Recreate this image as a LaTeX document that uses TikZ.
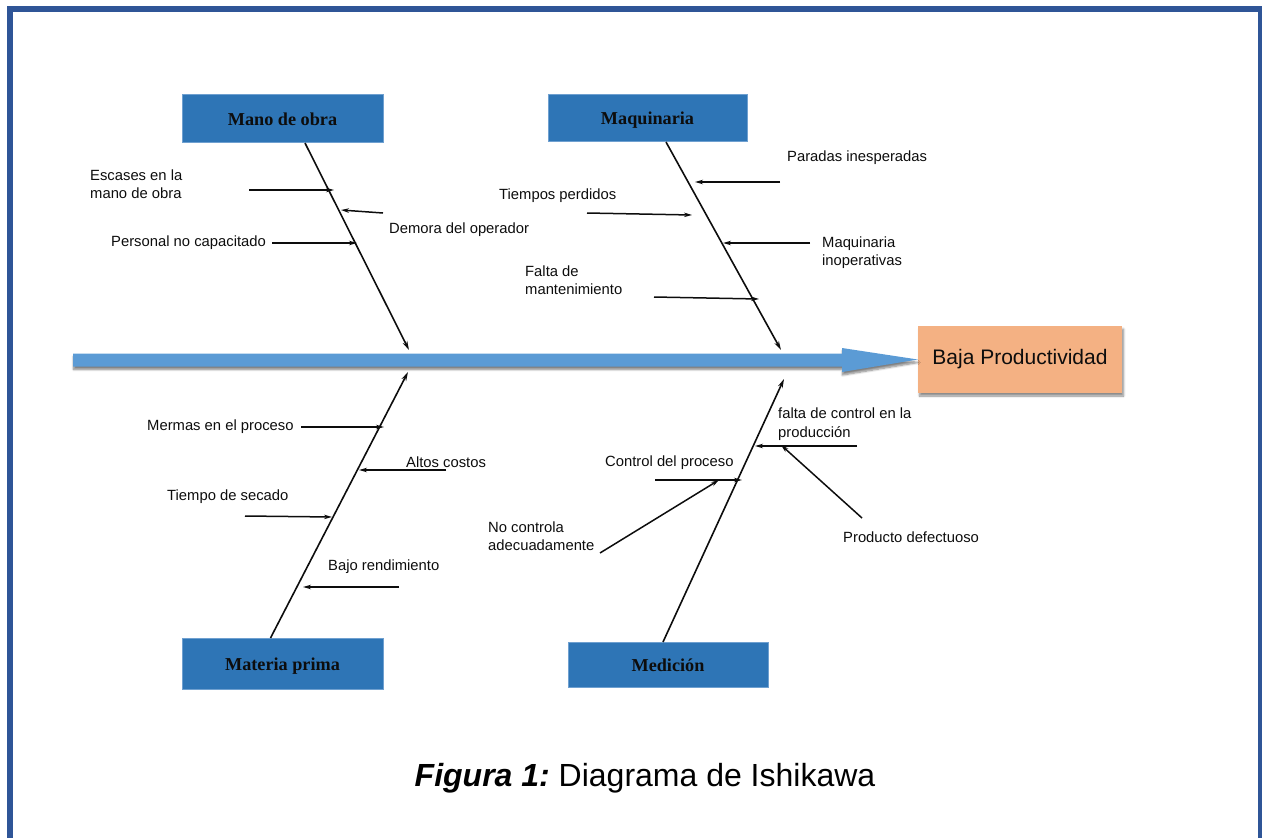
\documentclass[tikz,border=0pt]{standalone}
\usepackage{fontspec}
\setmainfont{Liberation Sans}
\newfontfamily\boxfont{Liberation Serif}
\usetikzlibrary{arrows.meta,shadows.blur}
\definecolor{frameblue}{HTML}{2F5597}
\definecolor{catblue}{HTML}{2E75B6}
\definecolor{catedge}{HTML}{6FA0D0}
\definecolor{spineblue}{HTML}{5B9BD5}
\definecolor{effect}{HTML}{F4B183}
\definecolor{ink}{HTML}{0D0D0D}
\begin{document}
\begin{tikzpicture}[x=1pt,y=-1pt,
  cat/.style={draw=catedge, line width=0.8, fill=catblue, minimum width=201, minimum height=48,
    inner sep=0, text height=15.5, text depth=1,
    font=\boxfont\bfseries\fontsize{18.2}{20}\selectfont, text=ink},
  lbl/.style={inner sep=0, anchor=west, align=left, font=\fontsize{14.8}{18.5}\selectfont, text=ink},
  bone/.style={line width=1.6, draw=ink, -{Stealth[length=9, width=5]}},
  twig/.style={line width=1.5, draw=ink, -{Stealth[length=8, width=4.5]}},
]
\useasboundingbox (0,0) rectangle (1262,838);
% frame
\draw[frameblue, line width=6] (10.3,845) -- (10.3,9);
\draw[frameblue, line width=5.5] (7.3,9) -- (1261.7,9);
\draw[frameblue, line width=3.4] (1260,6.5) -- (1260,845);

% effect box
\node[fill=effect, minimum width=204, minimum height=67, inner sep=0,
  blur shadow={shadow xshift=1.5pt, shadow yshift=-3pt, shadow blur steps=6, shadow opacity=45},
  font=\fontsize{21}{24}\selectfont, text=ink] (eff) at (1020,359.5) {Baja Productividad};

% main arrow
\coordinate (tail) at (73,360);
\fill[spineblue, blur shadow={shadow xshift=0.5pt, shadow yshift=-3pt, shadow blur steps=6, shadow opacity=50}]
  (tail) ++(0,-6.5) -- (842,353.5) -- (842,348) -- (eff.west) -- (842,372) -- (842,366.5) -- (73,366.5) -- cycle;

% category boxes
\node[cat] (mano) at (282.5,118.5) {Mano de obra};
\node[cat, minimum width=199, minimum height=47] (maq) at (647.5,117.5) {Maquinaria};
\node[cat, minimum height=51] (mat) at (282.5,663.5) {Materia prima};
\node[cat, minimum width=200, minimum height=45] (med) at (668,664.5) {Medición};

% spines
\coordinate (mT) at (305,143);   \coordinate (mH) at (409,350);
\coordinate (qT) at (666,142);   \coordinate (qH) at (781,350);
\coordinate (pT) at (270.5,638); \coordinate (pH) at (408,372);
\coordinate (dT) at (663,642);   \coordinate (dH) at (784,379);
\draw[bone] (mT) -- (mH);
\draw[bone] (qT) -- (qH);
\draw[bone] (pT) -- (pH);
\draw[bone] (dT) -- (dH);

% Mano de obra causes
\node[lbl] (escases) at (90,184) {Escases en la\\mano de obra};
\node[lbl] (demora) at (389,230) {Demora del operador};
\node[lbl] (personal) at (111,243) {Personal no capacitado};
\coordinate (e1) at (249,190); \coordinate (e2) at (334,190);
\coordinate (d1) at (383,213); \coordinate (d2) at (341,210);
\coordinate (p1) at (272,243); \coordinate (p2) at (357,243);
\draw[twig] (e1) -- (e2);
\draw[twig] (d1) -- (d2);
\draw[twig] (p1) -- (p2);

% Maquinaria causes
\node[lbl] (paradas) at (787,158) {Paradas inesperadas};
\node[lbl] (tiempos) at (499,196) {Tiempos perdidos};
\node[lbl] (inop) at (822,252.5) {Maquinaria\\inoperativas};
\node[lbl] (falta) at (525,280) {Falta de\\mantenimiento};
\coordinate (a1) at (780,182); \coordinate (a2) at (695,182);
\coordinate (t1) at (587,213); \coordinate (t2) at (692,215);
\coordinate (i1) at (810,243); \coordinate (i2) at (723,243);
\coordinate (f1) at (654,297); \coordinate (f2) at (759,299);
\draw[twig] (a1) -- (a2);
\draw[twig] (t1) -- (t2);
\draw[twig] (i1) -- (i2);
\draw[twig] (f1) -- (f2);

% Materia prima causes
\node[lbl] (mermas) at (147,427) {Mermas en el proceso};
\node[lbl] (altos) at (406,462) {Altos costos};
\node[lbl] (secado) at (167,497) {Tiempo de secado};
\node[lbl] (bajo) at (328,567) {Bajo rendimiento};
\coordinate (m1) at (301,427); \coordinate (m2) at (384,427);
\coordinate (c1) at (446,470); \coordinate (c2) at (359,470);
\coordinate (s1) at (245,516); \coordinate (s2) at (332,517);
\coordinate (b1) at (399,587); \coordinate (b2) at (303,587);
\draw[twig] (m1) -- (m2);
\draw[twig] (c1) -- (c2);
\draw[twig] (s1) -- (s2);
\draw[twig] (b1) -- (b2);

% Medicion causes
\node[lbl] (fcontrol) at (778,424) {falta de control en la\\producción};
\node[lbl] (cproc) at (605,463) {Control del proceso};
\node[lbl] (nocontrola) at (488,536) {No controla\\adecuadamente};
\node[lbl] (prod) at (843,537) {Producto defectuoso};
\coordinate (g1) at (857,446); \coordinate (g2) at (755,446);
\coordinate (h1) at (655,480); \coordinate (h2) at (742,480);
\coordinate (n1) at (600,553); \coordinate (n2) at (719,480);
\coordinate (r1) at (862,518); \coordinate (r2) at (781,445);
\draw[twig] (g1) -- (g2);
\draw[twig] (h1) -- (h2);
\draw[twig] (n1) -- (n2);
\draw[twig] (r1) -- (r2);

% caption
\node[inner sep=0, text=black] (cap) at (645,778)
  {\fontsize{32}{36}\selectfont\bfseries\itshape Figura 1:\normalfont\fontsize{32}{36}\selectfont\ Diagrama de Ishikawa};
\end{tikzpicture}
\end{document}
